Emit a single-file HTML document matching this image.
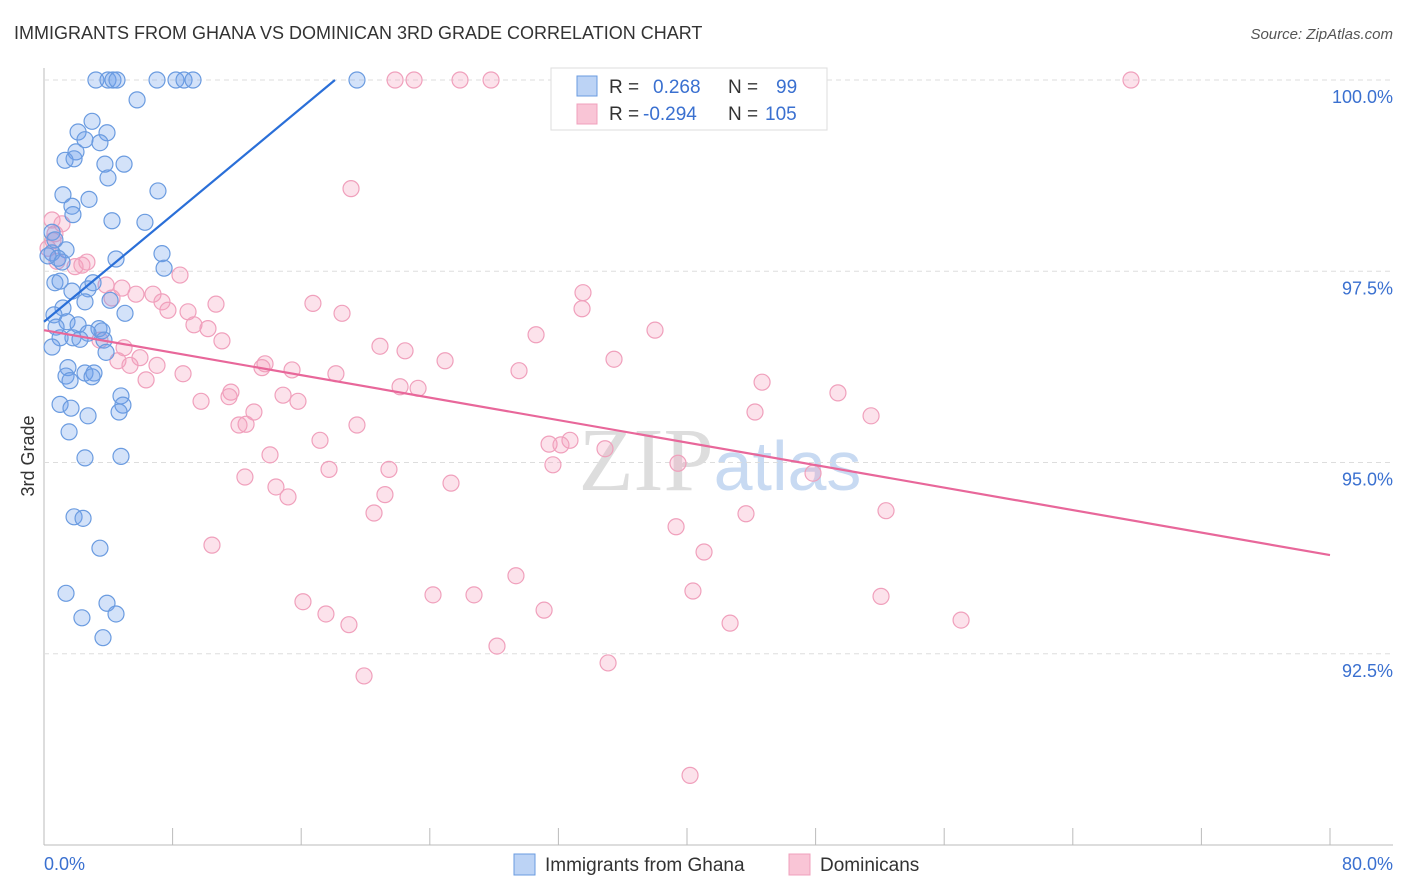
<!DOCTYPE html>
<html><head><meta charset="utf-8"><style>
body{margin:0;background:#fff;font-family:"Liberation Sans",sans-serif;}
svg{display:block}
</style></head><body>
<svg id="chart" width="1406" height="892">
<text x="14" y="39" font-size="18" fill="#333">IMMIGRANTS FROM GHANA VS DOMINICAN 3RD GRADE CORRELATION CHART</text>
<text x="1393" y="39" font-size="15" fill="#555" font-style="italic" text-anchor="end">Source: ZipAtlas.com</text>
<text x="720" y="490" font-size="90" fill="#ddd" text-anchor="middle" font-family="Liberation Serif,serif">ZIP<tspan fill="#c8daf2" font-family="Liberation Sans,sans-serif" font-size="70">atlas</tspan></text>
<text x="34" y="456" font-size="18" fill="#333" text-anchor="middle" transform="rotate(-90 34 456)">3rd Grade</text>
<g id="grid"></g><g id="pts"></g><g id="lines"></g>
<g>
<rect x="551" y="68" width="276" height="62" fill="#fff" stroke="#ddd"/>
<rect x="577" y="76" width="20" height="20" fill="#bcd3f5" stroke="#6a9be0"/>
<rect x="577" y="104" width="20" height="20" fill="#f9c5d6" stroke="#f0a0bc"/>
<text x="609" y="93" font-size="19" fill="#333">R = </text><text x="653" y="93" font-size="19" fill="#3a70d0">0.268</text>
<text x="728" y="93" font-size="19" fill="#333">N = </text><text x="776" y="93" font-size="19" fill="#3a70d0">99</text>
<text x="609" y="120" font-size="19" fill="#333">R = </text><text x="643" y="120" font-size="19" fill="#3a70d0">-0.294</text>
<text x="728" y="120" font-size="19" fill="#333">N = </text><text x="765" y="120" font-size="19" fill="#3a70d0">105</text>
</g>
<g>
<rect x="514" y="854" width="21" height="21" fill="#bcd3f5" stroke="#6a9be0"/>
<text x="545" y="871" font-size="19" fill="#333">Immigrants from Ghana</text>
<rect x="789" y="854" width="21" height="21" fill="#f9c5d6" stroke="#f0a0bc"/>
<text x="820" y="871" font-size="19" fill="#333">Dominicans</text>
</g>
</svg>
<script>
const xTicks=[0,8,16,24,32,40,48,56,64,72,80];
const yTicks=[92.5,95,97.5,100];
const yTickLabels=["92.5%","95.0%","97.5%","100.0%"];
const ghanaX=[3.23,3.98,4.29,4.54,7.03,8.21,8.71,9.27,19.47,5.79,2.99,2.12,3.92,2.55,3.48,1.99,1.31,1.87,3.79,4.98,3.98,7.09,1.18,2.80,1.74,1.80,4.23,6.28,0.50,0.68,1.37,0.50,0.87,0.25,1.12,4.48,7.34,7.47,0.68,1.00,1.74,2.74,3.05,4.11,2.55,1.18,0.62,5.04,1.43,2.12,0.75,3.42,3.61,2.74,1.00,1.80,3.73,2.24,0.50,3.86,1.49,1.37,2.55,3.11,2.99,1.62,4.79,1.00,1.68,4.91,4.67,2.74,1.56,4.79,2.55,1.87,2.43,3.48,1.37,3.92,2.36,4.48,3.67];
const ghanaY=[100,100,100,100,100,100,100,100,100,99.74,99.46,99.32,99.31,99.22,99.18,99.06,98.95,98.97,98.90,98.90,98.72,98.55,98.50,98.44,98.35,98.24,98.16,98.14,98.01,97.91,97.78,97.74,97.67,97.70,97.62,97.66,97.73,97.54,97.35,97.37,97.24,97.27,97.35,97.12,97.10,97.02,96.93,96.95,96.84,96.80,96.77,96.75,96.72,96.69,96.63,96.63,96.60,96.61,96.51,96.44,96.24,96.13,96.17,96.17,96.12,96.07,95.87,95.76,95.71,95.75,95.66,95.61,95.40,95.08,95.06,94.29,94.27,93.88,93.29,93.16,92.97,93.02,92.71];
const domX=[0.50,1.12,0.68,0.56,0.25,0.81,1.93,2.36,2.67,8.46,3.86,4.85,5.72,4.23,6.78,7.34,7.71,8.96,10.70,16.73,18.54,9.33,10.20,11.07,3.48,4.98,4.60,5.97,5.35,7.03,6.35,8.65,13.75,13.56,15.43,18.16,20.90,22.46,24.95,30.61,33.53,33.47,38.01,35.46,29.55,19.10,21.84,23.02,25.88,27.81,32.54,67.62,9.77,11.63,11.51,14.87,15.80,13.06,12.57,12.13,17.17,19.47,22.15,23.27,14.06,12.50,14.43,15.18,17.73,21.46,21.21,25.32,20.53,31.42,31.66,34.90,39.44,44.67,44.23,49.39,51.45,47.84,52.38,43.67,39.32,41.06,10.45,16.11,17.54,18.97,24.20,26.75,29.36,31.11,28.18,35.09,40.37,42.68,52.07,57.05,19.91,40.19,32.72,32.16];
const domY=[98.17,98.12,97.99,97.90,97.80,97.63,97.56,97.58,97.62,97.45,97.32,97.28,97.20,97.15,97.20,97.10,96.99,96.97,97.07,97.08,96.95,96.80,96.75,96.59,96.60,96.50,96.33,96.37,96.27,96.27,96.08,96.16,96.29,96.24,96.21,96.16,96.52,96.46,96.33,96.67,97.22,97.01,96.73,96.35,96.20,98.58,100,100,100,100,100,100,95.80,95.92,95.86,95.88,95.80,95.66,95.50,95.49,95.29,95.49,95.99,95.97,95.10,94.81,94.68,94.55,94.91,94.91,94.58,94.73,94.34,95.24,94.97,95.18,94.99,96.05,95.66,95.91,95.61,94.86,94.37,94.33,94.16,93.83,93.92,93.18,93.02,92.88,93.27,93.27,93.52,93.07,92.60,92.38,93.32,92.90,93.25,92.94,92.21,90.91,95.29,95.23];
const ghanaTrend=[[0,96.84],[18.1,100]];
const domTrend=[[0,96.73],[80,93.79]];
const NS="http://www.w3.org/2000/svg";
const X=v=>44+v*(1286/80);
const Y=v=>80+(100-v)*76.5;
function mk(t,a,p){const e=document.createElementNS(NS,t);for(const k in a)e.setAttribute(k,a[k]);p.appendChild(e);return e;}
const grid=document.getElementById('grid');
const ax=mk('line',{x1:44,y1:68,x2:44,y2:845,stroke:'#bbb'},grid);


const bx=mk('line',{x1:44,y1:845,x2:1393,y2:845,stroke:'#bbb'},grid);


yTicks.forEach((t,i)=>{
 const g=mk('line',{x1:44,y1:Y(t),x2:1393,y2:Y(t),stroke:'#ddd','stroke-dasharray':'5,4'},grid);
 
 
 const l=mk('text',{x:1393,y:Y(t)+23,'font-size':18,fill:'#3a70d0','text-anchor':'end'},grid);
 l.textContent=yTickLabels[i];
 
 
});
xTicks.forEach(t=>{
 const k=mk('line',{x1:X(t),y1:828,x2:X(t),y2:845,stroke:'#bbb'},grid);
 
 
});
const xl0=mk('text',{x:44,y:870,'font-size':18,fill:'#3a70d0'},grid);xl0.textContent=xTicks[0].toFixed(1)+'%';


const xl1=mk('text',{x:1393,y:870,'font-size':18,fill:'#3a70d0','text-anchor':'end'},grid);xl1.textContent=xTicks[xTicks.length-1].toFixed(1)+'%';


const pts=document.getElementById('pts');
domX.forEach((v,i)=>{
 const c=mk('circle',{cx:X(v),cy:Y(domY[i]),r:8,fill:'rgba(244,160,190,0.3)',stroke:'#f0a0bc','stroke-width':1.2},pts);
 
 
});
ghanaX.forEach((v,i)=>{
 const c=mk('circle',{cx:X(v),cy:Y(ghanaY[i]),r:8,fill:'rgba(110,160,235,0.3)',stroke:'#6a9be0','stroke-width':1.2},pts);
 
 
});
const lines=document.getElementById('lines');
const t1=mk('line',{x1:X(ghanaTrend[0][0]),y1:Y(ghanaTrend[0][1]),x2:X(ghanaTrend[1][0]),y2:Y(ghanaTrend[1][1]),stroke:'#2a6fd8','stroke-width':2.2},lines);


const t2=mk('line',{x1:X(domTrend[0][0]),y1:Y(domTrend[0][1]),x2:X(domTrend[1][0]),y2:Y(domTrend[1][1]),stroke:'#e8679a','stroke-width':2.2},lines);


</script>
</body></html>
